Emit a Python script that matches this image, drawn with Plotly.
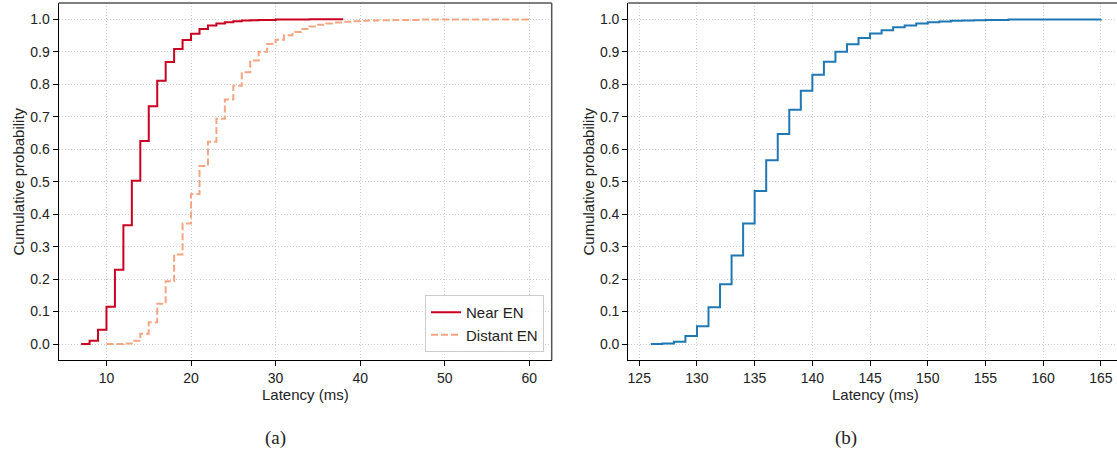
import plotly.graph_objects as go

# ---------------- data ----------------
near_latency = [7, 8, 9, 10, 11, 12, 13, 14, 15, 16, 17, 18, 19, 20, 21, 22, 23,
                24, 25, 26, 27, 28, 29, 30, 31, 32, 33, 34, 35, 36, 37, 38]
near_cdf = [0.0, 0.010, 0.044, 0.115, 0.229, 0.366, 0.503, 0.625, 0.732, 0.811,
            0.868, 0.908, 0.936, 0.955, 0.970, 0.981, 0.987, 0.991, 0.994, 0.996,
            0.997, 0.998, 0.998, 0.999, 0.999, 0.999, 0.999, 1.0, 1.0, 1.0, 1.0, 1.0]

distant_latency = [10, 11, 12, 13, 14, 15, 16, 17, 18, 19, 20, 21, 22, 23, 24, 25,
                   26, 27, 28, 29, 30, 31, 32, 33, 34, 35, 36, 37, 38, 39, 40, 41,
                   42, 44, 47, 60]
distant_cdf = [0.0, 0.0, 0.002, 0.010, 0.032, 0.067, 0.124, 0.193, 0.276, 0.371,
               0.462, 0.548, 0.623, 0.694, 0.753, 0.795, 0.837, 0.873, 0.900, 0.924,
               0.937, 0.951, 0.961, 0.970, 0.978, 0.983, 0.987, 0.990, 0.992, 0.994,
               0.995, 0.996, 0.997, 0.998, 0.999, 1.0]

b_latency = [126, 127, 128, 129, 130, 131, 132, 133, 134, 135, 136, 137, 138, 139,
             140, 141, 142, 143, 144, 145, 146, 147, 148, 149, 150, 151, 152, 153,
             154, 155, 157, 165]
b_cdf = [0.0, 0.002, 0.007, 0.025, 0.055, 0.113, 0.184, 0.273, 0.371, 0.471, 0.566,
         0.647, 0.721, 0.780, 0.829, 0.869, 0.900, 0.923, 0.942, 0.956, 0.966, 0.975,
         0.981, 0.987, 0.991, 0.993, 0.995, 0.996, 0.997, 0.998, 0.999, 1.0]

y_ticks = [0.0, 0.1, 0.2, 0.3, 0.4, 0.5, 0.6, 0.7, 0.8, 0.9, 1.0]
xa_ticks = [10, 20, 30, 40, 50, 60]
xb_ticks = [125, 130, 135, 140, 145, 150, 155, 160, 165]

series_names = ["Near EN", "Distant EN"]
x_title = "Latency (ms)"
y_title = "Cumulative probability"
captions = ["(a)", "(b)"]

# ---------------- figure ----------------
W, H = 1117, 453
FONT = "Liberation Sans"
SERIF = "Liberation Serif"

fig = go.Figure()
fig.add_trace(go.Scatter(x=near_latency, y=near_cdf, mode="lines", line_shape="hv",
                         name=series_names[0], xaxis="x", yaxis="y",
                         line=dict(color="#ca0020", width=2)))
fig.add_trace(go.Scatter(x=distant_latency, y=distant_cdf, mode="lines", line_shape="hv",
                         name=series_names[1], xaxis="x", yaxis="y",
                         line=dict(color="#f4a582", width=2, dash="7px,3px")))
fig.add_trace(go.Scatter(x=b_latency, y=b_cdf, mode="lines", line_shape="hv",
                         showlegend=False, xaxis="x2", yaxis="y2",
                         line=dict(color="#1f77b4", width=2)))

def px_x(p):
    return p / W

def px_y(p):
    return (H - p) / H

ydom = [px_y(360.3), px_y(3)]
axis_common = dict(showline=True, linecolor="black", linewidth=1.2,
                   ticks="outside", ticklen=5, tickwidth=1, tickcolor="black",
                   showgrid=True, gridcolor="#cccccc", griddash="1px,2px", gridwidth=1,
                   zeroline=False, tickfont=dict(family=FONT, size=14, color="#222"),
                   mirror=False)

fig.update_layout(
    width=W, height=H, margin=dict(l=0, r=0, t=0, b=0),
    paper_bgcolor="white", plot_bgcolor="white",
    font=dict(family=FONT, size=14, color="#222"),
    xaxis=dict(domain=[px_x(58.7), px_x(551.7)], range=[4.35, 62.65],
               tickvals=xa_ticks, anchor="y", **axis_common),
    yaxis=dict(domain=ydom, range=[-0.05, 1.05], tickvals=y_ticks,
               tickformat=".1f", anchor="x", **axis_common),
    xaxis2=dict(domain=[px_x(628.3), 1.0], range=[124.05, 166.4],
                tickvals=xb_ticks, anchor="y2", **axis_common),
    yaxis2=dict(domain=ydom, range=[-0.05, 1.05], tickvals=y_ticks,
                tickformat=".1f", anchor="x2", **axis_common),
    legend=dict(x=px_x(544), y=px_y(352), xanchor="right", yanchor="bottom",
                bgcolor="rgba(255,255,255,0.85)", bordercolor="#cccccc", borderwidth=1,
                font=dict(family=FONT, size=15, color="#222"),
                tracegroupgap=0, itemwidth=30),
    showlegend=True,
)

# gray top/right spines
fig.add_shape(type="line", xref="x domain", yref="y domain", x0=0, x1=1, y0=1, y1=1,
              line=dict(color="#555555", width=1.5))
fig.add_shape(type="line", xref="x domain", yref="y domain", x0=1, x1=1, y0=0, y1=1,
              line=dict(color="#555555", width=1.5))
fig.add_shape(type="line", xref="x2 domain", yref="y2 domain", x0=0, x1=1, y0=1, y1=1,
              line=dict(color="#555555", width=1.5))

# axis titles and captions
for xc, cap in [((58.7 + 551.7) / 2, captions[0]), ((628.3 + 1123.6) / 2, captions[1])]:
    fig.add_annotation(x=px_x(xc), y=px_y(394), xref="paper", yref="paper",
                       text=x_title, showarrow=False, xanchor="center", yanchor="middle",
                       font=dict(family=FONT, size=15, color="#222"))
    fig.add_annotation(x=px_x(xc - 30), y=px_y(438), xref="paper", yref="paper",
                       text=cap, showarrow=False, xanchor="center", yanchor="middle",
                       font=dict(family=SERIF, size=19, color="#222"))
for xc in [18, 588]:
    fig.add_annotation(x=px_x(xc), y=px_y(181.5), xref="paper", yref="paper",
                       text=y_title, showarrow=False, textangle=-90,
                       xanchor="center", yanchor="middle",
                       font=dict(family=FONT, size=15, color="#222"))

fig.write_html("out.html", config={"displayModeBar": False},
               post_script="document.body.style.margin='0';document.body.style.padding='0';")
